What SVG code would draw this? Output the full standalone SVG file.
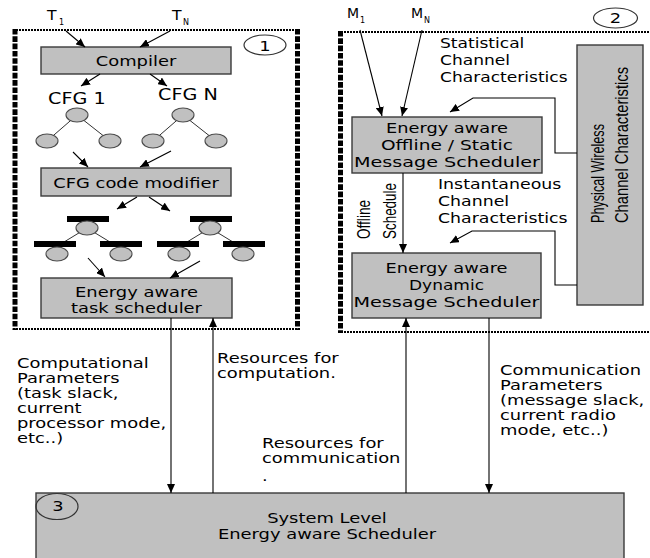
<svg xmlns="http://www.w3.org/2000/svg" width="650" height="558" viewBox="0 0 650 558">
  <style>
    .box { fill: #c0c0c0; stroke: #3a3a3a; stroke-width: 1.4; }
    .node { fill: #c0c0c0; stroke: #4a4a4a; stroke-width: 1.1; }
    .bar { fill: #000; }
    .edge { fill: none; stroke: #000; stroke-width: 1.1; }
    .tree { stroke: #333; stroke-width: 1; }
    .num { fill: none; stroke: #333; stroke-width: 1.2; }
    .t { font-family: "DejaVu Sans", sans-serif; font-size: 14px; fill: #000; }
    .sub { font-family: "DejaVu Sans", sans-serif; font-size: 8px; fill: #000; }
    .c { text-anchor: middle; }
    .n { font-family: "Liberation Sans", "Arial", sans-serif; font-size: 18px; fill: #000; }
    .thick { fill: none; stroke: #000; stroke-width: 5; stroke-dasharray: 5.6 1.7; }
    .thin { fill: none; stroke: #000; stroke-width: 2; stroke-dasharray: 2 1; }
  </style>
  <defs>
    <marker id="ah" viewBox="0 0 9 8" refX="9" refY="4" markerWidth="9" markerHeight="8" markerUnits="userSpaceOnUse" orient="auto">
      <path d="M0,0 L9,4 L0,8 z" fill="#000"/>
    </marker>
  </defs>

  <!-- subsystem 1: compiler / task scheduling -->
  <g id="region1">
    <line class="thin" x1="13" y1="30" x2="300" y2="30"/>
    <line class="thin" x1="13" y1="329" x2="300" y2="329"/>
    <line class="thick" x1="15" y1="29" x2="15" y2="330"/>
    <line class="thick" x1="297.5" y1="29" x2="297.5" y2="330"/>
    <ellipse class="num" cx="265" cy="45" rx="21" ry="10"/>
    <text class="t c" transform="translate(265,51) scale(1.28,1)">1</text>
  </g>

  <!-- subsystem 2: message scheduling -->
  <g id="region2">
    <line class="thin" x1="338" y1="32" x2="650" y2="32"/>
    <line class="thin" x1="338" y1="332" x2="650" y2="332"/>
    <line class="thick" x1="340.5" y1="31" x2="340.5" y2="333"/>
    <ellipse class="num" cx="615.5" cy="18" rx="22" ry="10"/>
    <text class="t c" transform="translate(615.5,23) scale(1.28,1)">2</text>
  </g>

  <g id="inputs">
    <text class="t" transform="translate(47,20) scale(1.12,1)">T</text>
    <text class="sub" x="59" y="25">1</text>
    <text class="t" transform="translate(172,20) scale(1.12,1)">T</text>
    <text class="sub" x="183" y="25">N</text>
    <text class="t" x="347" y="18">M</text>
    <text class="sub" x="360" y="23">1</text>
    <text class="t" x="411" y="18">M</text>
    <text class="sub" x="424" y="23">N</text>
  </g>

  <g id="compiler">
    <rect class="box" x="41" y="47" width="190" height="27"/>
    <text class="t c" transform="translate(136,66) scale(1.28,1)">Compiler</text>
  </g>

  <g id="cfg1">
    <text class="t" style="font-size:15px" transform="translate(48,104) scale(1.28,1)">CFG 1</text>
    <line class="tree" x1="77" y1="115" x2="47" y2="141"/>
    <line class="tree" x1="77" y1="115" x2="110" y2="141"/>
    <ellipse class="node" cx="77" cy="115" rx="11" ry="7"/>
    <ellipse class="node" cx="47" cy="141" rx="11" ry="7"/>
    <ellipse class="node" cx="110" cy="141" rx="11" ry="7"/>
  </g>

  <g id="cfgN">
    <text class="t" style="font-size:15px" transform="translate(158,100) scale(1.28,1)">CFG N</text>
    <line class="tree" x1="183" y1="115" x2="153" y2="141"/>
    <line class="tree" x1="183" y1="115" x2="216" y2="141"/>
    <ellipse class="node" cx="183" cy="115" rx="11" ry="7"/>
    <ellipse class="node" cx="153" cy="141" rx="11" ry="7"/>
    <ellipse class="node" cx="216" cy="141" rx="11" ry="7"/>
  </g>

  <g id="cfg-code-modifier">
    <rect class="box" x="41" y="168" width="190" height="28"/>
    <text class="t c" transform="translate(136,188) scale(1.28,1)">CFG code modifier</text>
  </g>

  <g id="modified-cfg1">
    <line class="tree" x1="87" y1="228" x2="64" y2="242"/>
    <line class="tree" x1="87" y1="228" x2="110" y2="242"/>
    <rect class="bar" x="67" y="216" width="42" height="6"/>
    <ellipse class="node" cx="87" cy="228" rx="11" ry="7"/>
    <rect class="bar" x="34" y="241" width="42" height="6"/>
    <ellipse class="node" cx="57" cy="254" rx="11" ry="7"/>
    <rect class="bar" x="100" y="241" width="42" height="6"/>
    <ellipse class="node" cx="121" cy="254" rx="11" ry="7"/>
  </g>

  <g id="modified-cfgN">
    <line class="tree" x1="210" y1="228" x2="187" y2="242"/>
    <line class="tree" x1="210" y1="228" x2="233" y2="242"/>
    <rect class="bar" x="190" y="216" width="42" height="6"/>
    <ellipse class="node" cx="210" cy="228" rx="11" ry="7"/>
    <rect class="bar" x="157" y="241" width="42" height="6"/>
    <ellipse class="node" cx="179" cy="254" rx="11" ry="7"/>
    <rect class="bar" x="223" y="241" width="42" height="6"/>
    <ellipse class="node" cx="243" cy="254" rx="11" ry="7"/>
  </g>

  <g id="task-scheduler">
    <rect class="box" x="41" y="278" width="191" height="40"/>
    <text class="t c" transform="translate(136.5,297) scale(1.28,1)">Energy aware</text>
    <text class="t c" transform="translate(136.5,313) scale(1.28,1)">task scheduler</text>
  </g>

  <g id="offline-scheduler">
    <rect class="box" x="352" y="117" width="190" height="56"/>
    <text class="t c" x="447" y="133" textLength="122" lengthAdjust="spacingAndGlyphs">Energy aware</text>
    <text class="t c" x="447" y="150" textLength="132" lengthAdjust="spacingAndGlyphs">Offline / Static</text>
    <text class="t c" x="447" y="167" textLength="186" lengthAdjust="spacingAndGlyphs">Message Scheduler</text>
  </g>

  <g id="dynamic-scheduler">
    <rect class="box" x="352" y="253" width="189" height="65"/>
    <text class="t c" x="446.5" y="273" textLength="122" lengthAdjust="spacingAndGlyphs">Energy aware</text>
    <text class="t c" x="446.5" y="290" textLength="75" lengthAdjust="spacingAndGlyphs">Dynamic</text>
    <text class="t c" x="446.5" y="307" textLength="186" lengthAdjust="spacingAndGlyphs">Message Scheduler</text>
  </g>

  <g id="physical-channel">
    <rect class="box" x="577" y="45" width="66" height="260"/>
    <text class="n" transform="translate(604,223) rotate(-90)" textLength="99" lengthAdjust="spacingAndGlyphs">Physical Wireless</text>
    <text class="n" transform="translate(628,223) rotate(-90)" textLength="156" lengthAdjust="spacingAndGlyphs">Channel Characteristics</text>
  </g>

  <g id="system-scheduler">
    <rect class="box" x="36" y="493" width="588" height="70"/>
    <ellipse class="num" cx="57" cy="506.5" rx="21" ry="13"/>
    <text class="t c" transform="translate(58,511) scale(1.28,1)">3</text>
    <text class="t c" transform="translate(327,523) scale(1.28,1)">System Level</text>
    <text class="t c" transform="translate(327,539) scale(1.28,1)">Energy aware Scheduler</text>
  </g>

  <g id="labels">
    <text class="t" transform="translate(440,48) scale(1.22,1)"><tspan x="0">Statistical</tspan><tspan x="0" dy="17">Channel</tspan><tspan x="0" dy="17">Characteristics</tspan></text>
    <text class="t" transform="translate(438,189) scale(1.24,1)"><tspan x="0">Instantaneous</tspan><tspan x="0" dy="17">Channel</tspan><tspan x="0" dy="17">Characteristics</tspan></text>
    <text class="n" transform="translate(370,239) rotate(-90)" textLength="39" lengthAdjust="spacingAndGlyphs">Offline</text>
    <text class="n" transform="translate(396,239) rotate(-90)" textLength="56" lengthAdjust="spacingAndGlyphs">Schedule</text>
    <text class="t" transform="translate(17,368) scale(1.28,1)"><tspan x="0">Computational</tspan><tspan x="0" dy="15">Parameters</tspan><tspan x="0" dy="15">(task slack,</tspan><tspan x="0" dy="15">current</tspan><tspan x="0" dy="15">processor mode,</tspan><tspan x="0" dy="15">etc..)</tspan></text>
    <text class="t" transform="translate(217,363) scale(1.28,1)"><tspan x="0">Resources for</tspan><tspan x="0" dy="15">computation.</tspan></text>
    <text class="t" transform="translate(262,448) scale(1.28,1)"><tspan x="0">Resources for</tspan><tspan x="0" dy="15">communication</tspan><tspan x="0" dy="18">.</tspan></text>
    <text class="t" transform="translate(500,375) scale(1.28,1)"><tspan x="0">Communication</tspan><tspan x="0" dy="15">Parameters</tspan><tspan x="0" dy="15">(message slack,</tspan><tspan x="0" dy="15">current radio</tspan><tspan x="0" dy="15">mode, etc..)</tspan></text>
  </g>

  <g id="connectors">
    <line class="edge" x1="66" y1="31" x2="85" y2="47" marker-end="url(#ah)"/>
    <line class="edge" x1="170" y1="31" x2="140" y2="47" marker-end="url(#ah)"/>
    <line class="edge" x1="100" y1="74" x2="81" y2="86" marker-end="url(#ah)"/>
    <line class="edge" x1="150" y1="74" x2="167" y2="86" marker-end="url(#ah)"/>
    <line class="edge" x1="73" y1="152" x2="88" y2="167" marker-end="url(#ah)"/>
    <line class="edge" x1="171" y1="151" x2="140" y2="167" marker-end="url(#ah)"/>
    <line class="edge" x1="137" y1="197" x2="117" y2="209" marker-end="url(#ah)"/>
    <line class="edge" x1="149" y1="197" x2="170" y2="211" marker-end="url(#ah)"/>
    <line class="edge" x1="88" y1="258" x2="105" y2="277" marker-end="url(#ah)"/>
    <line class="edge" x1="200" y1="261" x2="170" y2="278" marker-end="url(#ah)"/>
    <line class="edge" x1="171" y1="318" x2="171" y2="493" marker-end="url(#ah)"/>
    <line class="edge" x1="213" y1="493" x2="213" y2="318" marker-end="url(#ah)"/>
    <line class="edge" x1="406" y1="493" x2="406" y2="318" marker-end="url(#ah)"/>
    <line class="edge" x1="489" y1="318" x2="489" y2="493" marker-end="url(#ah)"/>
    <line class="edge" x1="360" y1="30" x2="382" y2="116" marker-end="url(#ah)"/>
    <line class="edge" x1="422" y1="30" x2="402" y2="116" marker-end="url(#ah)"/>
    <line class="edge" x1="403" y1="173" x2="403" y2="253" marker-end="url(#ah)"/>
    <polyline class="edge" points="577,153 555,153 555,98 473,98 450,112" marker-end="url(#ah)"/>
    <polyline class="edge" points="577,285 555,285 555,231 472,231 450,243" marker-end="url(#ah)"/>
  </g>
</svg>
